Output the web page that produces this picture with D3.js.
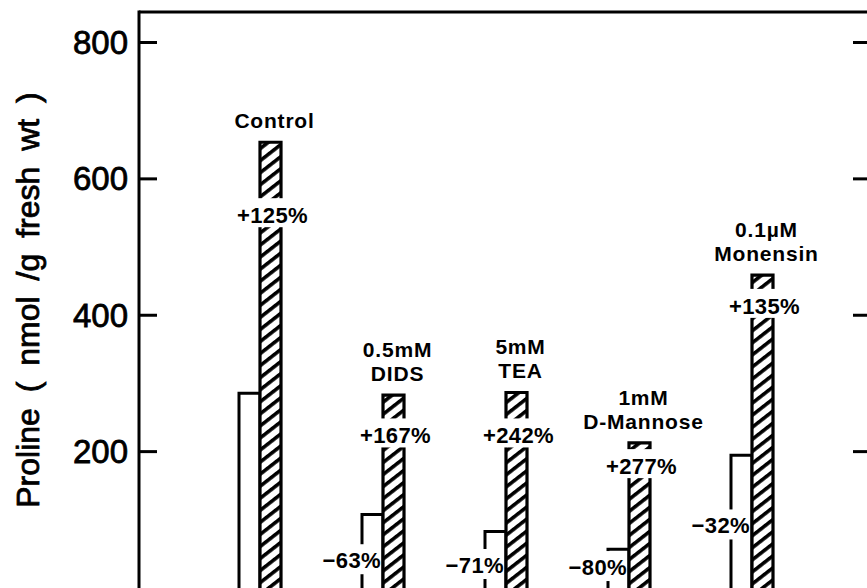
<!DOCTYPE html>
<html>
<head>
<meta charset="utf-8">
<script src="https://cdn.jsdelivr.net/npm/d3@7/dist/d3.min.js"></script>
<style>
  html, body { margin: 0; padding: 0; background: #fff; }
  svg { display: block; }
  text { font-family: "Liberation Sans", Arial, Helvetica, sans-serif; fill: #000; }
</style>
</head>
<body>
<svg id="chart" width="867" height="588"></svg>
<script>
// ---- data ----
const categories   = ["Control", "DIDS", "TEA", "D-Mannose", "Monensin"];
const labelLine1   = ["", "0.5mM", "5mM", "1mM", "0.1\u00B5M"];
const labelLine2   = ["Control", "DIDS", "TEA", "D-Mannose", "Monensin"];
const openValues   = [285, 107, 82, 56, 194];
const hatchValues  = [653, 282, 286, 212, 458];
const openPct      = ["", "\u221263%", "\u221271%", "\u221280%", "\u221232%"];
const hatchPct     = ["+125%", "+167%", "+242%", "+277%", "+135%"];
const yTicks       = [200, 400, 600, 800];
const yTitle       = "Proline ( nmol /g fresh wt )";

// label anchors (value units, where each % label sits on its bar)
const hatchPctAt   = [546, 223, 223, 178, 413];
const openPctAt    = [-40, 40, 33, 30, 91];

// ---- layout ----
const W = 867, H = 588;
const axisX = 139, rightX = 871, topY = 12;
const svg = d3.select("#chart");

const y = d3.scaleLinear().domain([0, 800]).range([587.5, 42]);
const x = d3.scaleBand().domain(categories).range([239, 773]).paddingInner(0.6585).paddingOuter(0);
const sub = d3.scaleBand().domain(["open", "hatch"]).range([0, x.bandwidth()]);

// hatch pattern
const defs = svg.append("defs");
const pat = defs.append("pattern")
  .attr("id", "hatch").attr("patternUnits", "userSpaceOnUse")
  .attr("width", 20).attr("height", 9.5)
  .attr("patternTransform", "rotate(-38)");
pat.append("rect").attr("width", 20).attr("height", 9.5).attr("fill", "#fff");
pat.append("rect").attr("x", 0).attr("y", 0).attr("width", 20).attr("height", 3.6).attr("fill", "#000");

// frame
svg.append("line").attr("x1", axisX).attr("x2", W + 10).attr("y1", topY).attr("y2", topY)
  .attr("stroke", "#000").attr("stroke-width", 3);
svg.append("line").attr("x1", axisX).attr("x2", axisX).attr("y1", topY - 1.5).attr("y2", H + 5)
  .attr("stroke", "#000").attr("stroke-width", 3);
svg.append("line").attr("x1", rightX).attr("x2", rightX).attr("y1", topY - 1.5).attr("y2", H + 5)
  .attr("stroke", "#000").attr("stroke-width", 3);

// left axis
const leftAxis = d3.axisRight(y).tickValues(yTicks).tickSize(18).tickFormat("");
const gL = svg.append("g").attr("transform", `translate(${axisX},0)`).call(leftAxis);
gL.select(".domain").remove();
gL.selectAll(".tick line").attr("stroke", "#000").attr("stroke-width", 3);

svg.append("g").selectAll("text").data(yTicks).join("text")
  .attr("x", 128).attr("y", d => y(d)).attr("dy", "0.36em")
  .attr("text-anchor", "end").attr("font-size", 33)
  .attr("stroke", "#000").attr("stroke-width", 0.8)
  .text(d => d);

// right axis ticks (inward)
const rightAxis = d3.axisLeft(y).tickValues(yTicks).tickSize(18).tickFormat("");
const gR = svg.append("g").attr("transform", `translate(${rightX},0)`).call(rightAxis);
gR.select(".domain").remove();
gR.selectAll(".tick line").attr("stroke", "#000").attr("stroke-width", 3);

// y title
svg.append("text")
  .attr("transform", `translate(39,300) rotate(-90)`)
  .attr("text-anchor", "middle").attr("font-size", 32)
  .attr("word-spacing", "7px")
  .attr("stroke", "#000").attr("stroke-width", 0.8)
  .text(yTitle);

// bars
const groups = categories.map((c, i) => ({
  c, i, open: openValues[i], hatch: hatchValues[i],
  x0: x(c), xo1: x(c) + sub("hatch"), xh1: x(c) + x.bandwidth()
}));

const g = svg.append("g");
const bottom = y(0) + 6;

// open bars
g.selectAll(".open").data(groups).join("path")
  .attr("class", "open")
  .attr("d", d => `M${d.x0},${bottom}V${y(d.open)}H${d.xo1}V${bottom}`)
  .attr("fill", "#fff").attr("stroke", "#000").attr("stroke-width", 3)
  .attr("stroke-linejoin", "miter");

// hatched bars
g.selectAll(".hatchfill").data(groups).join("rect")
  .attr("x", d => d.xo1).attr("y", d => y(d.hatch))
  .attr("width", d => d.xh1 - d.xo1).attr("height", d => bottom - y(d.hatch))
  .attr("fill", "url(#hatch)");
g.selectAll(".hatch").data(groups).join("path")
  .attr("class", "hatch")
  .attr("d", d => `M${d.xo1},${bottom}V${y(d.hatch)}H${d.xh1}V${bottom}`)
  .attr("fill", "none").attr("stroke", "#000").attr("stroke-width", 3.2)
  .attr("stroke-linejoin", "miter");

// hatched % labels with gaps
const pctFont = 22;
groups.forEach(d => {
  const cy = y(hatchPctAt[d.i]);
  const cx = (d.xo1 + d.xh1) / 2 + 2;
  g.append("rect").attr("x", d.xo1 - 3).attr("y", cy - 17)
    .attr("width", d.xh1 - d.xo1 + 6).attr("height", 29).attr("fill", "#fff");
  g.append("text").attr("x", cx).attr("y", cy).attr("dy", "0.36em")
    .attr("text-anchor", "middle").attr("font-size", pctFont).attr("font-weight", "bold")
    .attr("letter-spacing", "0.4px")
    .text(hatchPct[d.i]);
});

// open % labels with gaps
groups.forEach(d => {
  if (!openPct[d.i]) return;
  const cy = y(openPctAt[d.i]);
  g.append("rect").attr("x", d.x0 - 3).attr("y", cy - 16)
    .attr("width", 6).attr("height", 30).attr("fill", "#fff");
  g.append("text").attr("x", d.xo1 - 2).attr("y", cy).attr("dy", "0.36em")
    .attr("text-anchor", "end").attr("font-size", pctFont).attr("font-weight", "bold")
    .attr("letter-spacing", "0.4px")
    .text(openPct[d.i]);
});

// category labels
groups.forEach(d => {
  const cx = (d.xo1 + d.xh1) / 2 + 4;
  const top = y(d.hatch);
  g.append("text").attr("x", cx).attr("y", top - 22).attr("dy", "0.36em")
    .attr("text-anchor", "middle").attr("font-size", 21).attr("font-weight", "bold")
    .attr("letter-spacing", "0.8px")
    .text(labelLine2[d.i]);
  if (labelLine1[d.i]) {
    g.append("text").attr("x", cx).attr("y", top - 46).attr("dy", "0.36em")
      .attr("text-anchor", "middle").attr("font-size", 21).attr("font-weight", "bold")
      .attr("letter-spacing", "0.8px")
      .text(labelLine1[d.i]);
  }
});
</script>
</body>
</html>
